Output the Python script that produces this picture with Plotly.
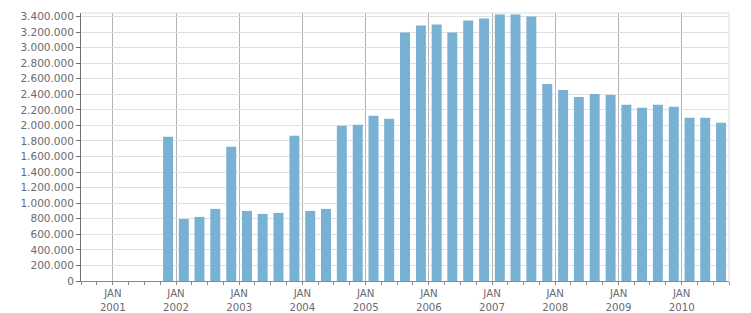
import pandas as pd
import plotly.graph_objects as go

# Quarterly values, Q4 2001 .. Q3 2010
quarters = ["2001Q4",
            "2002Q1", "2002Q2", "2002Q3", "2002Q4",
            "2003Q1", "2003Q2", "2003Q3", "2003Q4",
            "2004Q1", "2004Q2", "2004Q3", "2004Q4",
            "2005Q1", "2005Q2", "2005Q3", "2005Q4",
            "2006Q1", "2006Q2", "2006Q3", "2006Q4",
            "2007Q1", "2007Q2", "2007Q3", "2007Q4",
            "2008Q1", "2008Q2", "2008Q3", "2008Q4",
            "2009Q1", "2009Q2", "2009Q3", "2009Q4",
            "2010Q1", "2010Q2", "2010Q3"]
values = [1853000,
          798000, 824000, 927000, 1725000,
          901000, 862000, 875000, 1866000,
          901000, 927000, 1995000, 2008000,
          2124000, 2085000, 3195000, 3285000,
          3297000, 3195000, 3349000, 3374000,
          3426000, 3426000, 3400000, 2533000,
          2455000, 2365000, 2405000, 2392000,
          2265000, 2227000, 2265000, 2239000,
          2098000, 2098000, 2033000]
years = list(range(2001, 2011))
year_labels = [f"JAN<br>{y}" for y in years]

periods = pd.PeriodIndex(quarters, freq="Q")
starts = periods.start_time
ends = periods.end_time
mids = starts + (ends - starts) / 2
bar_width_ms = 0.63 * 91.3 * 24 * 3600 * 1000

fig = go.Figure(go.Bar(
    x=mids, y=values, width=bar_width_ms,
    marker=dict(color="#78b1d3", line=dict(width=0)),
))

font_color = "#6a6a72"
fig.update_layout(
    width=751, height=313,
    margin=dict(l=81, r=22, t=13, b=32),
    paper_bgcolor="white", plot_bgcolor="white",
    separators=",.",
    showlegend=False,
    font=dict(family="DejaVu Sans", size=10.5, color=font_color),
    xaxis=dict(
        type="date",
        automargin=False,
        range=["2000-07-01", "2010-10-01"],
        tickvals=[f"{y}-01-01" for y in years],
        ticktext=year_labels,
        tickfont=dict(size=10.2),
        showgrid=True, gridcolor="#b4b4b4", gridwidth=1,
        showline=True, linecolor="#8a8a8a", linewidth=1,
        ticks="outside", ticklen=3, tickcolor="#8a8a8a",
        minor=dict(dtick="M3", tick0="2001-01-01", ticks="outside",
                   ticklen=3, tickcolor="#8a8a8a", showgrid=False),
        zeroline=False,
    ),
    yaxis=dict(
        automargin=False,
        range=[0, 3445000],
        tick0=0, dtick=200000,
        tickformat=",.0f",
        showgrid=True, gridcolor="#e0e0e0", gridwidth=1,
        showline=True, linecolor="#707070", linewidth=1,
        ticks="outside", ticklen=4, tickcolor="#707070",
        zeroline=False,
    ),
    shapes=[
        dict(type="line", xref="paper", yref="paper", x0=0, x1=1, y0=1, y1=1,
             line=dict(color="#dcdcdc", width=1)),
        dict(type="line", xref="paper", yref="paper", x0=1, x1=1, y0=0, y1=1,
             line=dict(color="#dcdcdc", width=1)),
    ],
)

fig.write_html("out.html")
